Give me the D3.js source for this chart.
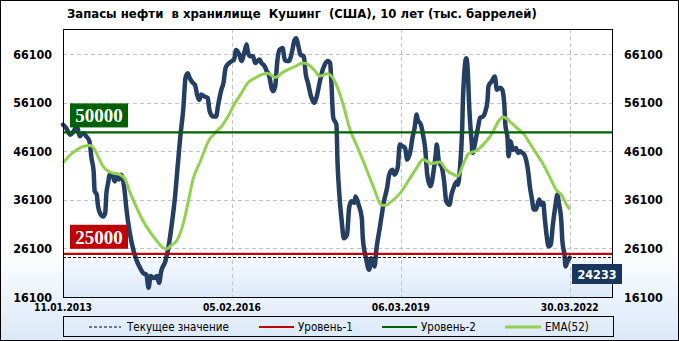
<!DOCTYPE html>
<html><head><meta charset="utf-8">
<script src="https://cdn.jsdelivr.net/npm/d3@7"></script>
<style>body{margin:0;background:#fff}svg{display:block}</style>
</head><body><svg id="c" width="679" height="341"></svg>
<script>
const titleText = "Запасы нефти  в хранилище  Кушинг  (США), 10 лет (тыс. баррелей)";
const xTickWeeks = [0, 160, 320, 480];
const xTickLabels = ["11.01.2013", "05.02.2016", "06.03.2019", "30.03.2022"];
const yTicks = [16100, 26100, 36100, 46100, 56100, 66100];
const level1 = 25000;
const level2 = 50000;
const currentValue = 24233;
const legendLabels = ["Текущее значение", "Уровень-1", "Уровень-2", "EMA(52)"];

// [week index, thousand barrels]
const storage = [[0,51600],[3,50900],[7,49500],[10,50200],[13,51300],[16,49200],[19,49900],[22,49200],[25,48200],[27,44700],[29,42000],[30,37900],[32,37200],[33,35100],[35,33400],[38,32700],[40,33400],[41,37200],[43,39900],[44,41300],[47,41000],[49,39900],[51,41300],[53,40300],[55,41300],[58,38600],[60,34400],[63,29600],[67,25500],[70,23500],[73,22100],[76,21000],[79,20700],[81,18000],[83,20400],[86,20000],[89,20400],[91,19000],[93,21400],[97,23500],[100,26500],[103,31000],[106,36500],[109,44000],[111,48900],[114,55000],[116,61200],[118,62200],[120,61200],[123,60200],[125,59800],[127,57800],[129,56700],[131,57800],[134,57400],[137,57100],[139,54300],[142,53300],[145,53300],[147,55700],[150,58800],[152,60200],[154,63300],[156,64000],[160,64700],[162,65000],[164,67000],[167,66000],[169,64700],[172,66700],[174,68100],[175,66700],[177,65700],[180,65700],[182,64300],[186,65000],[188,64300],[191,63600],[193,62600],[195,61900],[198,58800],[199,58500],[201,59500],[203,64700],[205,67000],[208,67400],[210,65000],[212,64700],[214,64700],[217,66700],[219,68800],[221,69400],[223,67700],[225,66000],[228,65700],[230,61900],[232,60200],[235,57400],[238,56100],[240,57100],[243,60200],[246,62900],[248,64000],[251,64700],[253,64300],[254,61200],[256,53000],[259,51600],[260,44000],[262,36500],[264,31700],[266,28200],[269,28900],[271,34400],[273,35800],[276,35500],[277,36800],[280,35100],[283,32400],[284,28200],[287,24100],[290,21700],[292,24100],[295,22400],[297,26200],[300,30300],[302,33100],[304,35800],[307,38600],[309,41300],[312,42300],[314,41300],[317,42700],[319,47500],[322,47100],[324,46800],[326,44400],[329,46100],[331,48900],[333,50900],[335,53700],[336,52600],[339,51600],[341,49500],[343,46800],[345,41300],[348,38900],[351,42000],[353,45400],[354,47500],[356,44000],[359,42700],[361,39900],[363,35800],[366,35100],[368,37200],[370,38600],[373,39900],[374,39200],[376,42700],[378,50200],[379,57800],[382,65300],[383,64000],[385,54300],[387,48200],[388,45800],[390,47500],[393,50900],[395,53000],[398,53300],[400,54300],[402,56400],[403,59500],[406,60500],[409,61500],[411,58800],[414,59200],[416,58800],[418,55700],[419,51600],[421,48900],[422,45100],[424,48200],[426,46400],[429,46800],[431,45800],[433,46100],[435,45800],[437,45400],[439,44000],[441,41300],[442,39200],[444,36500],[446,34100],[448,34100],[451,36200],[453,35100],[455,35500],[456,33100],[458,28900],[460,26500],[462,26900],[464,31000],[467,35800],[468,37200],[470,35100],[472,31700],[473,27600],[475,24800],[476,22400],[478,23500],[480,24233]];

const ema52 = [[0,43700],[7,45400],[13,46400],[19,47100],[26,47300],[29,46800],[33,45100],[38,43000],[43,42000],[48,41600],[54,41300],[59,40300],[63,37900],[70,34400],[76,31700],[82,29600],[89,27600],[95,26200],[98,26000],[102,26700],[108,27800],[114,31300],[119,36100],[123,40200],[130,44000],[138,48300],[144,49900],[150,51200],[157,53600],[163,56100],[169,58100],[175,60200],[182,61200],[188,61900],[194,62200],[201,61300],[207,62200],[213,62900],[220,63600],[227,64300],[232,64000],[239,62600],[243,61600],[251,62100],[259,59800],[265,56000],[272,50500],[278,47400],[284,44300],[294,38800],[302,35000],[306,35000],[310,35600],[319,37400],[329,40700],[335,42700],[341,44400],[349,43600],[357,43900],[363,42300],[370,41300],[374,41000],[379,43400],[384,45600],[392,46300],[404,49000],[417,53200],[425,51900],[430,50900],[437,49500],[444,47100],[450,45100],[456,43000],[463,39900],[467,38200],[472,37200],[477,35100],[480,34100]];

const W = 679, H = 341;
const PL = 63, PR = 612, PT = 29, PB = 297;
const FONT = "'DejaVu Sans Condensed','DejaVu Sans',sans-serif";
const svg = d3.select("#c");
const defs = svg.append("defs");

const g1 = defs.append("linearGradient").attr("id","bgGrad").attr("x1",0).attr("y1",0).attr("x2",0).attr("y2",1);
g1.append("stop").attr("offset","0").attr("stop-color","#ffffff");
g1.append("stop").attr("offset","0.72").attr("stop-color","#ffffff");
g1.append("stop").attr("offset","1").attr("stop-color","#dae8f7");
const g2 = defs.append("linearGradient").attr("id","bandGrad").attr("x1",0).attr("y1",0).attr("x2",0).attr("y2",1);
g2.append("stop").attr("offset","0").attr("stop-color","#f6f9fe");
g2.append("stop").attr("offset","1").attr("stop-color","#dce9f8");

const x = d3.scaleLinear().domain([0, 520]).range([PL, PR]);
const y = d3.scaleLinear().domain([16100, 71300]).range([PB, PT]);

svg.append("rect").attr("x",0).attr("y",0).attr("width",W).attr("height",H).attr("fill","url(#bgGrad)");
svg.append("rect").attr("x",PL).attr("y",PT).attr("width",PR-PL).attr("height",PB-PT).attr("fill","#fff");
svg.append("rect").attr("x",PL).attr("y",y(currentValue)).attr("width",PR-PL).attr("height",PB-y(currentValue)).attr("fill","url(#bandGrad)");

// gridlines
svg.append("g").selectAll("line").data(yTicks.slice(1)).join("line")
  .attr("x1",PL).attr("x2",PR).attr("y1",d=>Math.round(y(d))+0.5).attr("y2",d=>Math.round(y(d))+0.5)
  .attr("stroke","#c4c4c4").attr("stroke-dasharray","4,3");
svg.append("g").selectAll("line").data(xTickWeeks.slice(1)).join("line")
  .attr("x1",d=>Math.round(x(d))+0.5).attr("x2",d=>Math.round(x(d))+0.5).attr("y1",PT).attr("y2",PB)
  .attr("stroke","#c4c4c4").attr("stroke-dasharray","4,3");

// series
const line = d3.line().x(d=>x(d[0])).y(d=>y(d[1])).curve(d3.curveMonotoneX);
svg.append("path").datum(storage).attr("d",line).attr("fill","none")
  .attr("stroke","#243f62").attr("stroke-width",4.5).attr("stroke-linejoin","round").attr("stroke-linecap","round");
svg.append("path").datum(ema52).attr("d",line).attr("fill","none")
  .attr("stroke","#92d050").attr("stroke-width",3).attr("stroke-linejoin","round");

// levels
svg.append("line").attr("x1",PL).attr("x2",PR).attr("y1",y(currentValue)).attr("y2",y(currentValue))
  .attr("stroke","#000").attr("stroke-width",1).attr("stroke-dasharray","3,2");
svg.append("line").attr("x1",PL).attr("x2",PR).attr("y1",y(level1)).attr("y2",y(level1))
  .attr("stroke","#c00000").attr("stroke-width",2.2);
svg.append("line").attr("x1",PL).attr("x2",PR).attr("y1",y(level2)).attr("y2",y(level2))
  .attr("stroke","#006100").attr("stroke-width",2.2);

// plot border
svg.append("rect").attr("x",PL+0.5).attr("y",PT+0.5).attr("width",PR-PL).attr("height",PB-PT)
  .attr("fill","none").attr("stroke","#000");

// level boxes
function levelBox(val, fill) {
  const yy = y(val);
  svg.append("rect").attr("x",70).attr("y",yy-29).attr("width",58).attr("height",24).attr("fill",fill);
  svg.append("text").attr("x",99).attr("y",yy-10).attr("text-anchor","middle")
    .attr("font-family","'Liberation Serif','DejaVu Serif',serif").attr("font-weight","bold")
    .attr("font-size",19).attr("fill","#fff").text(d3.format("d")(val));
}
levelBox(level2, "#006100");
levelBox(level1, "#c00000");

// current value box
svg.append("rect").attr("x",572).attr("y",264).attr("width",50).attr("height",20).attr("fill","#17375e");
svg.append("text").attr("x",597).attr("y",278.5).attr("text-anchor","middle").attr("font-family",FONT)
  .attr("font-stretch","condensed").attr("font-weight","bold").attr("font-size",12.5).attr("fill","#fff")
  .text(d3.format("d")(currentValue));

// y axes
const yl = svg.append("g");
yl.selectAll("text.l").data(yTicks).join("text").attr("class","l")
  .attr("x",52).attr("y",d=>y(d)+4.5).attr("text-anchor","end");
yl.selectAll("text.r").data(yTicks).join("text").attr("class","r")
  .attr("x",624).attr("y",d=>y(d)+4.5).attr("text-anchor","start");
yl.selectAll("text").attr("font-family",FONT).attr("font-stretch","condensed").attr("font-weight","bold")
  .attr("font-size",12.4).attr("fill","#000").text(d=>d);

// x axis labels
svg.append("g").selectAll("text").data(xTickWeeks).join("text")
  .attr("x",d=>x(d)).attr("y",311).attr("text-anchor","middle")
  .attr("font-family",FONT).attr("font-stretch","condensed").attr("font-weight","bold").attr("font-size",10.2)
  .text((d,i)=>xTickLabels[i]);

// title
svg.append("text").attr("x",67).attr("y",18).attr("font-family",FONT).attr("font-stretch","condensed")
  .attr("font-weight","bold").attr("font-size",13).attr("xml:space","preserve").style("white-space","pre")
  .text(titleText);

// legend
svg.append("rect").attr("x",63.5).attr("y",316.5).attr("width",550).attr("height",20).attr("fill","none").attr("stroke","#000");
const lg = [
  {x1:89,x2:121,tx:127,stroke:"#000",w:1,dash:"3,2"},
  {x1:259,x2:294,tx:298,stroke:"#c00000",w:2.2,dash:null},
  {x1:382,x2:417,tx:421,stroke:"#006100",w:2.2,dash:null},
  {x1:505,x2:541,tx:545,stroke:"#92d050",w:3,dash:null}
];
lg.forEach((d,i)=>{
  svg.append("line").attr("x1",d.x1).attr("x2",d.x2).attr("y1",327).attr("y2",327)
    .attr("stroke",d.stroke).attr("stroke-width",d.w).attr("stroke-dasharray",d.dash);
  svg.append("text").attr("x",d.tx).attr("y",331).attr("font-family",FONT).attr("font-stretch","condensed")
    .attr("font-size",11.5).attr("fill","#000").text(legendLabels[i]);
});

// outer border
svg.append("rect").attr("x",0.5).attr("y",0.5).attr("width",W-1).attr("height",H-1).attr("fill","none").attr("stroke","#000");
</script></body></html>
